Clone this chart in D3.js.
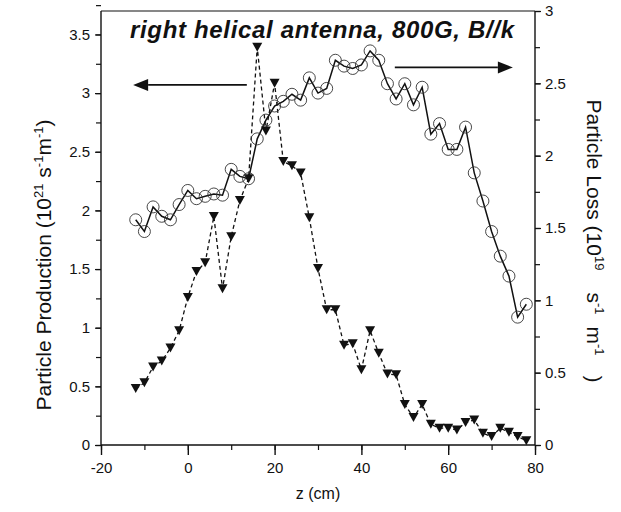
<!DOCTYPE html>
<html>
<head>
<meta charset="utf-8">
<script src="https://cdn.jsdelivr.net/npm/d3@7"></script>
<style>
  html, body { margin: 0; padding: 0; background: #fff; }
  svg { display: block; font-family: "Liberation Sans", Arial, sans-serif; }
</style>
</head>
<body>
<svg id="chart" width="621" height="512"></svg>
<script>
// ---- data ----
const zPositions = [-12,-10,-8,-6,-4,-2,0,2,4,6,8,10,12,14,16,18,20,22,24,26,28,30,32,34,36,38,40,42,44,46,48,50,52,54,56,58,60,62,64,66,68,70,72,74,76,78];
const production = [1.92,1.82,2.03,1.95,1.92,2.05,2.17,2.10,2.12,2.14,2.13,2.35,2.29,2.27,2.61,2.77,2.89,2.93,2.99,2.94,3.13,3.00,3.04,3.28,3.23,3.21,3.24,3.36,3.28,3.08,2.95,3.08,2.90,3.05,2.65,2.74,2.52,2.52,2.71,2.32,2.08,1.82,1.61,1.44,1.09,1.20];
const loss = [0.39,0.43,0.54,0.58,0.67,0.79,1.02,1.20,1.26,1.58,1.08,1.44,1.69,1.84,2.75,2.17,2.50,1.96,1.93,1.88,1.57,1.22,0.935,0.935,0.69,0.70,0.52,0.79,0.635,0.49,0.485,0.28,0.19,0.28,0.143,0.116,0.116,0.104,0.155,0.173,0.081,0.058,0.116,0.088,0.058,0.03];
const xTicks = [-20,0,20,40,60,80];
const leftTicks = [0,0.5,1,1.5,2,2.5,3,3.5];
const rightTicks = [0,0.5,1,1.5,2,2.5,3];
const titleText = "right helical antenna, 800G, B//k";
// arrows: [z start, z end, value] (left arrow in production units, right arrow in loss units)
const leftArrow = [13.6, -12.6, 3.07];
const rightArrow = [47.7, 74.9, 2.61];

// ---- layout ----
const L = 101, R = 535, T = 11, B = 445;
const svg = d3.select("#chart");
const x = d3.scaleLinear().domain([-20, 80]).range([L, R]);
const yL = d3.scaleLinear().domain([0, 3.7]).range([B, T]);
const yR = d3.scaleLinear().domain([0, 3]).range([B, T]);

const ink = "#111";
const fontFam = "Liberation Sans, Arial, sans-serif";

// frame top
svg.append("line").attr("x1", L).attr("x2", R).attr("y1", T).attr("y2", T)
  .attr("stroke", ink).attr("stroke-width", 1.2);

// bottom axis
const gx = svg.append("g").attr("transform", `translate(0,${B})`);
gx.call(d3.axisBottom(x).tickValues(d3.range(-20, 81, 10)).tickSize(5).tickFormat(""));
gx.call(g => g.select(".domain").remove());
gx.append("line").attr("x1", L).attr("x2", R).attr("stroke", ink).attr("stroke-width", 1.4);
gx.selectAll(".tick line").attr("stroke", ink).attr("stroke-width", 1.2);
const gx2 = svg.append("g").attr("transform", `translate(0,${B})`);
gx2.call(d3.axisBottom(x).tickValues(xTicks).tickSize(10).tickPadding(7).tickFormat(d => String(d)));
gx2.select(".domain").remove();
gx2.selectAll(".tick line").attr("stroke", ink).attr("stroke-width", 1.4);
gx2.selectAll(".tick text").attr("font-size", 15).attr("fill", ink).attr("font-family", fontFam);

// left axis
const gl = svg.append("g").attr("transform", `translate(${L},0)`);
gl.call(d3.axisLeft(yL).tickValues(d3.range(0, 3.76, 0.25)).tickSize(5).tickFormat(""));
gl.select(".domain").remove();
gl.append("line").attr("y1", T).attr("y2", B).attr("stroke", ink).attr("stroke-width", 1.4);
gl.selectAll(".tick line").attr("stroke", ink).attr("stroke-width", 1.2);
const gl2 = svg.append("g").attr("transform", `translate(${L},0)`);
gl2.call(d3.axisLeft(yL).tickValues(leftTicks).tickSize(6).tickPadding(5).tickFormat(d => String(d)));
gl2.select(".domain").remove();
gl2.selectAll(".tick line").attr("stroke", ink).attr("stroke-width", 1.2);
gl2.selectAll(".tick text").attr("font-size", 15).attr("fill", ink).attr("font-family", fontFam);

// right axis
const gr = svg.append("g").attr("transform", `translate(${R},0)`);
gr.call(d3.axisRight(yR).tickValues(d3.range(0, 3.01, 0.25)).tickSize(5).tickFormat(""));
gr.select(".domain").remove();
gr.append("line").attr("y1", T).attr("y2", B).attr("stroke", ink).attr("stroke-width", 1.4);
gr.selectAll(".tick line").attr("stroke", ink).attr("stroke-width", 1.2);
const gr2 = svg.append("g").attr("transform", `translate(${R},0)`);
gr2.call(d3.axisRight(yR).tickValues(rightTicks).tickSize(6).tickPadding(4).tickFormat(d => String(d)));
gr2.select(".domain").remove();
gr2.selectAll(".tick line").attr("stroke", ink).attr("stroke-width", 1.2);
gr2.selectAll(".tick text").attr("font-size", 15).attr("fill", ink).attr("font-family", fontFam);

// ---- series ----
const prodData = zPositions.map((z, i) => ({z, v: production[i]}));
const lossData = zPositions.map((z, i) => ({z, v: loss[i]}));

svg.append("path").datum(lossData)
  .attr("fill", "none").attr("stroke", ink).attr("stroke-width", 1.3)
  .attr("stroke-dasharray", "4,3")
  .attr("d", d3.line().x(d => x(d.z)).y(d => yR(d.v)));

svg.append("g").selectAll("path").data(lossData).join("path")
  .attr("transform", d => `translate(${x(d.z)},${yR(d.v)})`)
  .attr("d", "M-5,-4.5L5,-4.5L0,4.5Z")
  .attr("fill", ink);

svg.append("path").datum(prodData)
  .attr("fill", "none").attr("stroke", ink).attr("stroke-width", 1.5)
  .attr("d", d3.line().x(d => x(d.z)).y(d => yL(d.v)));

svg.append("g").selectAll("circle").data(prodData).join("circle")
  .attr("cx", d => x(d.z)).attr("cy", d => yL(d.v)).attr("r", 6)
  .attr("fill", "none").attr("stroke", "#333").attr("stroke-width", 0.9);

// ---- arrows ----
function arrow(x1, x2, y) {
  const dir = Math.sign(x2 - x1);
  const headLen = 15, headW = 6;
  svg.append("line").attr("x1", x1).attr("x2", x2 - dir * headLen).attr("y1", y).attr("y2", y)
    .attr("stroke", ink).attr("stroke-width", 1.6);
  svg.append("path")
    .attr("d", `M${x2},${y}L${x2 - dir * headLen},${y - headW}L${x2 - dir * headLen},${y + headW}Z`)
    .attr("fill", ink);
}
arrow(x(leftArrow[0]), x(leftArrow[1]), yL(leftArrow[2]));
arrow(x(rightArrow[0]), x(rightArrow[1]), yR(rightArrow[2]));

// ---- texts ----
svg.append("text").attr("x", 322).attr("y", 38).attr("text-anchor", "middle")
  .attr("font-size", 24).attr("font-weight", "bold").attr("font-style", "italic")
  .attr("textLength", 384).attr("lengthAdjust", "spacing")
  .attr("fill", ink).text(titleText);

svg.append("text").attr("x", 318).attr("y", 499).attr("text-anchor", "middle")
  .attr("font-size", 16).attr("fill", ink).text("z (cm)");

// axis titles with superscripts; measured and centred manually
function axisTitle(parts, fontSize) {
  const t = svg.append("text").attr("font-size", fontSize).attr("fill", ink);
  parts.forEach(p => {
    const s = t.append("tspan").text(p.t);
    if (p.sup) s.attr("font-size", Math.round(fontSize * 0.62));
    if (p.dy) s.attr("dy", p.dy);
    if (p.dx) s.attr("dx", p.dx);
  });
  return t;
}
const lt = axisTitle([
  {t: "Particle Production (10"},
  {t: "21", sup: true, dy: -8},
  {t: " s", dy: 8},
  {t: "-1", sup: true, dy: -8},
  {t: "m", dy: 8},
  {t: "-1", sup: true, dy: -8},
  {t: ")", dy: 8}
], 21);
const lw = lt.node().getBBox().width;
lt.attr("transform", `translate(51,${265 + lw / 2}) rotate(-90)`);

const rt = axisTitle([
  {t: "Particle Loss (10"},
  {t: "19", sup: true, dy: -8},
  {t: "s", dy: 8, dx: 22},
  {t: "-1", sup: true, dy: -8},
  {t: "m", dy: 8, dx: 12},
  {t: "-1", sup: true, dy: -8},
  {t: ")", dy: 8, dx: 20}
], 21);
const rw = rt.node().getBBox().width;
rt.attr("transform", `translate(587,${241 - rw / 2}) rotate(90)`);
</script>
</body>
</html>
